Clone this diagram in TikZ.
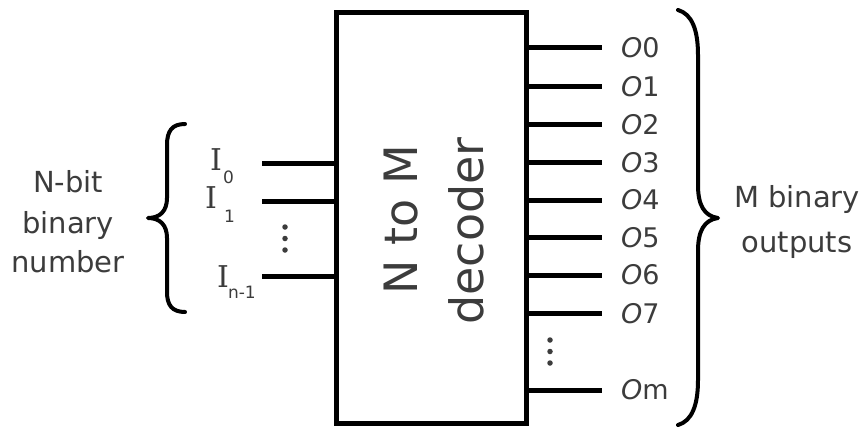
\documentclass[tikz,border=0pt]{standalone}
\usepackage{fontspec}
\setmainfont{DejaVu Sans}
\newfontfamily\serifI{DejaVu Serif}
\definecolor{txt}{RGB}{60,60,60}
\tikzset{
  wire/.style={line width=5pt, black},
  brc/.style={line width=4pt, black, line cap=round, line join=round},
  lbl/.style={text=txt, inner sep=0pt, font=\fontsize{29}{29}\selectfont},
  olbl/.style={text=txt, inner sep=0pt, anchor=west, font=\fontsize{27}{27}\selectfont},
  ilbl/.style={text=txt, inner sep=0pt, anchor=base west, font=\fontsize{30}{30}\serifI},
  dotmark/.style={circle, fill=txt, inner sep=0pt, minimum size=5.5pt},
}
\newcommand{\subsz}{\fontsize{17}{17}\fontspec{DejaVu Sans}}
\begin{document}
\begin{tikzpicture}[x=1pt,y=-1pt]
\useasboundingbox (0,0) rectangle (867,428);
% decoder box
\node[draw, line width=5pt, minimum width=190pt, minimum height=410pt, inner sep=0pt] (dec) at (431.7,218) {};
\node[rotate=90, anchor=base, text=txt, inner sep=0pt, font=\fontsize{46}{46}\selectfont] (t1) at (417,220) {N to M};
\node[rotate=90, anchor=base, text=txt, inner sep=0pt, font=\fontsize{46}{46}\selectfont] (t2) at (483,231) {decoder};
% inputs
\coordinate (i0) at (262,163);
\coordinate (i1) at (262,201);
\coordinate (i2) at (262,276);
\draw[wire] (i0) -- (i0 -| dec.west);
\draw[wire] (i1) -- (i1 -| dec.west);
\draw[wire] (i2) -- (i2 -| dec.west);
\node[ilbl] (li0) at (210,170) {I\kern1pt\raisebox{-13pt}{\subsz 0}};
\node[ilbl] (li1) at (205,208) {I\kern7pt\raisebox{-14pt}{\subsz 1}};
\node[ilbl] (li2) at (217,287) {I\kern-1pt\raisebox{-11pt}{\subsz n-1}};
\node[dotmark] (id1) at (285,227) {};
\node[dotmark] (id2) at (285,238.5) {};
\node[dotmark] (id3) at (285,250) {};
% outputs
\foreach \n/\y/\t in {0/48/0,1/86.7/1,2/124.3/2,3/162.7/3,4/200/4,5/237.7/5,6/275/6,7/313.3/7,m/390/m}{
  \node[olbl] (lo\n) at (621,\y) {\textit{O}\t};
  \draw[wire] (dec.east |- lo\n.west) -- ([xshift=-19pt]lo\n.west);
}
\node[dotmark] (od1) at (550,340) {};
\node[dotmark] (od2) at (550,351.5) {};
\node[dotmark] (od3) at (550,363) {};
% left brace and label
\draw[brc] (185,124) .. controls (172,124) and (167,131) .. (167,145) -- (167,198)
  .. controls (167,211) and (160,218) .. (148,218)
  .. controls (160,218) and (167,225) .. (167,238) -- (167,292)
  .. controls (167,305) and (172,312) .. (185,312);
\node[lbl, anchor=base] (n1) at (68,192) {N-bit};
\node[lbl, anchor=base] (n2) at (68,233) {binary};
\node[lbl, anchor=base] (n3) at (68,272) {number};
% right brace and label
\draw[brc] (678,10) .. controls (692,14) and (698,30) .. (698,55) -- (698,185)
  .. controls (698,205) and (704,216) .. (718,218)
  .. controls (704,220) and (698,231) .. (698,251) -- (698,380)
  .. controls (698,405) and (692,421) .. (678,425);
\node[lbl, anchor=base] (m1) at (797,207) {M binary};
\node[lbl, anchor=base] (m2) at (797,252) {outputs};
\end{tikzpicture}
\end{document}
